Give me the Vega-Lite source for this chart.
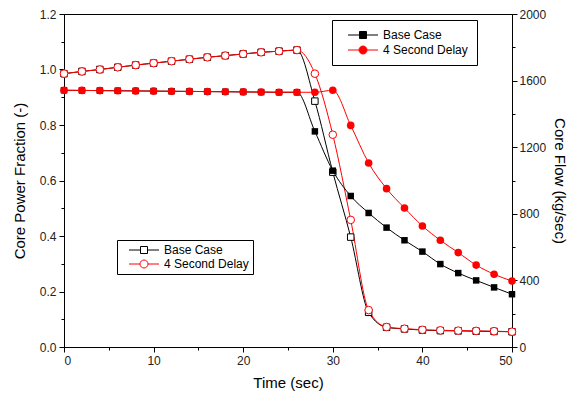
{
  "$schema": "https://vega.github.io/schema/vega-lite/v6.json",
  "width": 448,
  "height": 333,
  "autosize": {"type": "none"},
  "padding": {"left": 64, "top": 14, "right": 61, "bottom": 54},
  "background": "white",
  "config": {
    "font": "Liberation Sans",
    "view": {"stroke": "black", "strokeWidth": 1},
    "axis": {
      "grid": false,
      "domainColor": "black",
      "tickColor": "black",
      "labelColor": "#222222",
      "labelFont": "Liberation Sans",
      "labelFontSize": 12,
      "titleFont": "Liberation Sans",
      "titleFontSize": 15,
      "titleFontWeight": "normal",
      "titleColor": "black"
    },
    "legend": {
      "labelFont": "Liberation Sans",
      "labelFontSize": 12,
      "labelColor": "black",
      "strokeColor": "black",
      "fillColor": "white",
      "cornerRadius": 0,
      "symbolSize": 100,
      "symbolOffset": 10,
      "labelOffset": 14,
      "rowPadding": 2
    }
  },
  "datasets": {
    "power": [
      {"t": 0, "v": 0.985, "case": "Base Case"},
      {"t": 2, "v": 0.993, "case": "Base Case"},
      {"t": 4, "v": 1.0, "case": "Base Case"},
      {"t": 6, "v": 1.008, "case": "Base Case"},
      {"t": 8, "v": 1.016, "case": "Base Case"},
      {"t": 10, "v": 1.023, "case": "Base Case"},
      {"t": 12, "v": 1.03, "case": "Base Case"},
      {"t": 14, "v": 1.037, "case": "Base Case"},
      {"t": 16, "v": 1.044, "case": "Base Case"},
      {"t": 18, "v": 1.05, "case": "Base Case"},
      {"t": 20, "v": 1.056, "case": "Base Case"},
      {"t": 22, "v": 1.062, "case": "Base Case"},
      {"t": 24, "v": 1.066, "case": "Base Case"},
      {"t": 26, "v": 1.07, "case": "Base Case"},
      {"t": 28, "v": 0.886, "case": "Base Case"},
      {"t": 30, "v": 0.63, "case": "Base Case"},
      {"t": 32, "v": 0.396, "case": "Base Case"},
      {"t": 34, "v": 0.125, "case": "Base Case"},
      {"t": 36, "v": 0.071, "case": "Base Case"},
      {"t": 38, "v": 0.065, "case": "Base Case"},
      {"t": 40, "v": 0.061, "case": "Base Case"},
      {"t": 42, "v": 0.059, "case": "Base Case"},
      {"t": 44, "v": 0.058, "case": "Base Case"},
      {"t": 46, "v": 0.057, "case": "Base Case"},
      {"t": 48, "v": 0.056, "case": "Base Case"},
      {"t": 50, "v": 0.055, "case": "Base Case"},
      {"t": 0, "v": 0.985, "case": "4 Second Delay"},
      {"t": 2, "v": 0.993, "case": "4 Second Delay"},
      {"t": 4, "v": 1.0, "case": "4 Second Delay"},
      {"t": 6, "v": 1.008, "case": "4 Second Delay"},
      {"t": 8, "v": 1.016, "case": "4 Second Delay"},
      {"t": 10, "v": 1.023, "case": "4 Second Delay"},
      {"t": 12, "v": 1.03, "case": "4 Second Delay"},
      {"t": 14, "v": 1.037, "case": "4 Second Delay"},
      {"t": 16, "v": 1.044, "case": "4 Second Delay"},
      {"t": 18, "v": 1.05, "case": "4 Second Delay"},
      {"t": 20, "v": 1.056, "case": "4 Second Delay"},
      {"t": 22, "v": 1.062, "case": "4 Second Delay"},
      {"t": 24, "v": 1.066, "case": "4 Second Delay"},
      {"t": 26, "v": 1.07, "case": "4 Second Delay"},
      {"t": 28, "v": 0.985, "case": "4 Second Delay"},
      {"t": 30, "v": 0.765, "case": "4 Second Delay"},
      {"t": 32, "v": 0.458, "case": "4 Second Delay"},
      {"t": 34, "v": 0.133, "case": "4 Second Delay"},
      {"t": 36, "v": 0.072, "case": "4 Second Delay"},
      {"t": 38, "v": 0.066, "case": "4 Second Delay"},
      {"t": 40, "v": 0.062, "case": "4 Second Delay"},
      {"t": 42, "v": 0.06, "case": "4 Second Delay"},
      {"t": 44, "v": 0.059, "case": "4 Second Delay"},
      {"t": 46, "v": 0.058, "case": "4 Second Delay"},
      {"t": 48, "v": 0.057, "case": "4 Second Delay"},
      {"t": 50, "v": 0.055, "case": "4 Second Delay"}
    ],
    "flow": [
      {"t": 0, "f": 1542, "case": "Base Case"},
      {"t": 2, "f": 1541, "case": "Base Case"},
      {"t": 4, "f": 1540, "case": "Base Case"},
      {"t": 6, "f": 1539, "case": "Base Case"},
      {"t": 8, "f": 1538, "case": "Base Case"},
      {"t": 10, "f": 1537, "case": "Base Case"},
      {"t": 12, "f": 1536, "case": "Base Case"},
      {"t": 14, "f": 1535, "case": "Base Case"},
      {"t": 16, "f": 1534, "case": "Base Case"},
      {"t": 18, "f": 1533, "case": "Base Case"},
      {"t": 20, "f": 1532, "case": "Base Case"},
      {"t": 22, "f": 1531, "case": "Base Case"},
      {"t": 24, "f": 1530, "case": "Base Case"},
      {"t": 26, "f": 1530, "case": "Base Case"},
      {"t": 28, "f": 1295, "case": "Base Case"},
      {"t": 30, "f": 1059, "case": "Base Case"},
      {"t": 32, "f": 907, "case": "Base Case"},
      {"t": 34, "f": 805, "case": "Base Case"},
      {"t": 36, "f": 717, "case": "Base Case"},
      {"t": 38, "f": 641, "case": "Base Case"},
      {"t": 40, "f": 573, "case": "Base Case"},
      {"t": 42, "f": 498, "case": "Base Case"},
      {"t": 44, "f": 444, "case": "Base Case"},
      {"t": 46, "f": 400, "case": "Base Case"},
      {"t": 48, "f": 358, "case": "Base Case"},
      {"t": 50, "f": 317, "case": "Base Case"},
      {"t": 0, "f": 1542, "case": "4 Second Delay"},
      {"t": 2, "f": 1541, "case": "4 Second Delay"},
      {"t": 4, "f": 1540, "case": "4 Second Delay"},
      {"t": 6, "f": 1539, "case": "4 Second Delay"},
      {"t": 8, "f": 1538, "case": "4 Second Delay"},
      {"t": 10, "f": 1537, "case": "4 Second Delay"},
      {"t": 12, "f": 1536, "case": "4 Second Delay"},
      {"t": 14, "f": 1535, "case": "4 Second Delay"},
      {"t": 16, "f": 1534, "case": "4 Second Delay"},
      {"t": 18, "f": 1533, "case": "4 Second Delay"},
      {"t": 20, "f": 1532, "case": "4 Second Delay"},
      {"t": 22, "f": 1531, "case": "4 Second Delay"},
      {"t": 24, "f": 1530, "case": "4 Second Delay"},
      {"t": 26, "f": 1530, "case": "4 Second Delay"},
      {"t": 28, "f": 1530, "case": "4 Second Delay"},
      {"t": 30, "f": 1542, "case": "4 Second Delay"},
      {"t": 32, "f": 1331, "case": "4 Second Delay"},
      {"t": 34, "f": 1105, "case": "4 Second Delay"},
      {"t": 36, "f": 951, "case": "4 Second Delay"},
      {"t": 38, "f": 835, "case": "4 Second Delay"},
      {"t": 40, "f": 727, "case": "4 Second Delay"},
      {"t": 42, "f": 641, "case": "4 Second Delay"},
      {"t": 44, "f": 567, "case": "4 Second Delay"},
      {"t": 46, "f": 492, "case": "4 Second Delay"},
      {"t": 48, "f": 437, "case": "4 Second Delay"},
      {"t": 50, "f": 396, "case": "4 Second Delay"}
    ]
  },
  "layer": [
    {
      "data": {"name": "power"},
      "encoding": {
        "x": {
          "field": "t", "type": "quantitative",
          "scale": {"domain": [0, 50], "nice": false},
          "axis": {
            "title": "Time (sec)",
            "values": [0, 5, 10, 15, 20, 25, 30, 35, 40, 45, 50],
            "labelExpr": "datum.value % 10 === 0 ? datum.label : ''",
            "tickSize": {"condition": {"test": "datum.value % 10 === 0", "value": 5}, "value": 3},
            "labelPadding": 3,
            "titlePadding": 9
          }
        },
        "y": {
          "field": "v", "type": "quantitative",
          "scale": {"domain": [0, 1.2], "nice": false, "zero": false},
          "axis": {
            "orient": "left",
            "title": "Core Power Fraction (-)",
            "values": [0, 0.1, 0.2, 0.3, 0.4, 0.5, 0.6, 0.7, 0.8, 0.9, 1.0, 1.1, 1.2],
            "labelExpr": "round(datum.value * 10) % 2 === 0 ? format(datum.value, '.1f') : ''",
            "tickSize": {"condition": {"test": "round(datum.value * 10) % 2 === 0", "value": 5}, "value": 3},
            "labelPadding": 3,
            "titlePadding": 12
          }
        }
      },
      "layer": [
        {
          "mark": {"type": "line", "interpolate": "monotone", "strokeWidth": 1},
          "encoding": {
            "stroke": {
              "field": "case", "type": "nominal", "sort": "descending",
              "scale": {"range": ["#000000", "#FF0000"]},
              "legend": {
                "title": null, "orient": "none", "legendX": 53, "legendY": 226, "padding": 4, "symbolOffset": 17,
                "encode": {"symbols": {"update": {
                  "shape": {"signal": "datum.value === 'Base Case' ? 'M-3,0H-0.7M0.7,0H3M-0.7,-0.7H0.7V0.7H-0.7Z' : 'M-3,0H-0.8M0.8,0H3M-0.8,0A0.8,0.8 0 1,0 0.8,0A0.8,0.8 0 1,0 -0.8,0Z'"},
                  "fill": {"value": "white"},
                  "fillOpacity": {"value": 1},
                  "stroke": {"signal": "datum.value === 'Base Case' ? '#000000' : '#FF0000'"},
                  "strokeWidth": {"value": 1},
                  "opacity": {"value": 1}
                }}}
              }
            }
          }
        },
        {
          "mark": {"type": "point", "filled": false, "fill": "white", "fillOpacity": 1, "strokeWidth": 1, "opacity": 1},
          "encoding": {
            "stroke": {
              "field": "case", "type": "nominal", "sort": "descending",
              "scale": {"range": ["#000000", "#FF0000"]}
            },
            "shape": {"field": "case", "type": "nominal", "sort": "descending", "scale": {"range": ["square", "circle"]}, "legend": null},
            "size": {"field": "case", "type": "nominal", "sort": "descending", "scale": {"range": [42, 58]}, "legend": null}
          }
        }
      ]
    },
    {
      "data": {"name": "flow"},
      "encoding": {
        "x": {"field": "t", "type": "quantitative", "scale": {"domain": [0, 50], "nice": false}},
        "y": {
          "field": "f", "type": "quantitative",
          "scale": {"domain": [0, 2000], "nice": false, "zero": false},
          "axis": {
            "orient": "right",
            "title": "Core Flow (kg/sec)",
            "values": [0, 200, 400, 600, 800, 1000, 1200, 1400, 1600, 1800, 2000],
            "labelExpr": "datum.value % 400 === 0 ? format(datum.value, 'd') : ''",
            "tickSize": {"condition": {"test": "datum.value % 400 === 0", "value": 5}, "value": 3},
            "labelPadding": 2,
            "titlePadding": 6
          }
        }
      },
      "layer": [
        {
          "mark": {"type": "line", "interpolate": "monotone", "strokeWidth": 1},
          "encoding": {
            "color": {
              "field": "case", "type": "nominal", "sort": "descending",
              "scale": {"range": ["#000000", "#FF0000"]},
              "legend": {
                "title": null, "orient": "none", "legendX": 268, "legendY": 6, "padding": 9, "symbolOffset": 16, "rowPadding": 3,
                "encode": {"symbols": {"update": {
                  "shape": {"signal": "datum.value === 'Base Case' ? 'M-3,0H-0.7M0.7,0H3M-0.7,-0.7H0.7V0.7H-0.7Z' : 'M-3,0H-0.8M0.8,0H3M-0.8,0A0.8,0.8 0 1,0 0.8,0A0.8,0.8 0 1,0 -0.8,0Z'"},
                  "fill": {"signal": "datum.value === 'Base Case' ? '#000000' : '#FF0000'"},
                  "fillOpacity": {"value": 1},
                  "stroke": {"signal": "datum.value === 'Base Case' ? '#000000' : '#FF0000'"},
                  "strokeWidth": {"value": 1},
                  "opacity": {"value": 1}
                }}}
              }
            }
          }
        },
        {
          "mark": {"type": "point", "filled": true, "opacity": 1, "strokeWidth": 0},
          "encoding": {
            "color": {
              "field": "case", "type": "nominal", "sort": "descending",
              "scale": {"range": ["#000000", "#FF0000"]}
            },
            "shape": {"field": "case", "type": "nominal", "sort": "descending", "scale": {"range": ["square", "circle"]}, "legend": null},
            "size": {"field": "case", "type": "nominal", "sort": "descending", "scale": {"range": [42, 58]}, "legend": null}
          }
        }
      ]
    }
  ],
  "resolve": {"scale": {"y": "independent"}, "axis": {"y": "independent"}}
}
